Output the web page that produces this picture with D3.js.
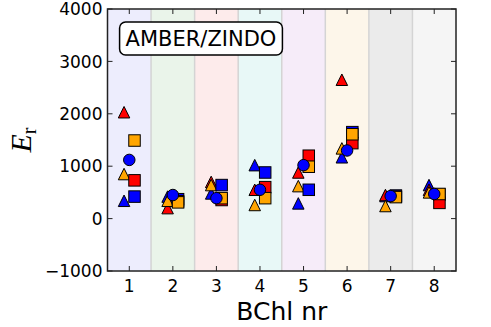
<!DOCTYPE html>
<html><head><meta charset="utf-8">
<script src="https://cdn.jsdelivr.net/npm/d3@7"></script>
<style>
html,body{margin:0;padding:0;background:#fff;}
svg{display:block;font-family:"DejaVu Sans",sans-serif;}
</style></head>
<body><svg id="c" width="491" height="327"></svg>
<script>
const categories = [1, 2, 3, 4, 5, 6, 7, 8];
const yTicks = [-1000, 0, 1000, 2000, 3000, 4000];
const bandColors = ["#ededfd", "#eaf4ea", "#fdebeb", "#e8f8f7", "#f6ecf9", "#fdf6ea", "#ebebeb", "#f5f5f5"];
const triBlue   = [340, 420, 480, 1020, 290, 1170, 430, 640];
const triRed    = [2030, 200, 700, 550, 880, 2650, 450, 550];
const triOrange = [850, 340, 640, 260, 620, 1340, 240, 500];
const sqBlue    = [420, 370, 640, 880, 550, 1650, 440, 460];
const sqRed     = [730, 330, 355, 600, 1200, 1440, 420, 300];
const sqOrange  = [1490, 310, 390, 390, 990, 1610, 410, 470];
const circBlue  = [1120, 450, 390, 550, 1020, 1300, 430, 470];
const boxLabel = "AMBER/ZINDO";
const xLabel = "BChl nr";

const series = [
  {vals: triBlue, shape: "tri", color: "#0000ff", off: -0.12},
  {vals: triRed, shape: "tri", color: "#ff0000", off: -0.12},
  {vals: triOrange, shape: "tri", color: "#ffa500", off: -0.12},
  {vals: sqBlue, shape: "sq", color: "#0000ff", off: 0.12},
  {vals: sqRed, shape: "sq", color: "#ff0000", off: 0.12},
  {vals: sqOrange, shape: "sq", color: "#ffa500", off: 0.12},
  {vals: circBlue, shape: "circ", color: "#0000ff", off: 0}
];

const L = 107.5, R = 456, T = 9, B = 271;
const svg = d3.select("#c");
const x = d3.scaleLinear().domain([0.5, 8.5]).range([L, R]);
const y = d3.scaleLinear().domain([-1000, 4000]).range([B, T]);

// bands
svg.append("g").selectAll("rect").data(categories).join("rect")
  .attr("x", d => x(d - 0.5)).attr("width", d => x(d + 0.5) - x(d - 0.5))
  .attr("y", T).attr("height", B - T)
  .attr("fill", (d, i) => bandColors[i]);
svg.append("g").selectAll("line").data(categories.slice(0, -1)).join("line")
  .attr("x1", d => x(d + 0.5)).attr("x2", d => x(d + 0.5))
  .attr("y1", T).attr("y2", B)
  .attr("stroke", "#d4d4d4").attr("stroke-width", 1.5);

// markers
const ms = 11.5;
const g = svg.append("g");
series.forEach(s => {
  categories.forEach((c, i) => {
    const cx = x(c + s.off), cy = y(s.vals[i]);
    if (s.shape === "tri") {
      const h = ms / 2;
      g.append("path").attr("d", `M${cx},${cy - h}L${cx - h},${cy + h}L${cx + h},${cy + h}Z`)
        .attr("fill", s.color).attr("stroke", "#000").attr("stroke-width", 1).attr("stroke-linejoin", "miter");
    } else if (s.shape === "sq") {
      g.append("rect").attr("x", cx - ms / 2).attr("y", cy - ms / 2).attr("width", ms).attr("height", ms)
        .attr("fill", s.color).attr("stroke", "#000").attr("stroke-width", 1);
    } else {
      g.append("circle").attr("cx", cx).attr("cy", cy).attr("r", ms / 2)
        .attr("fill", s.color).attr("stroke", "#000").attr("stroke-width", 1);
    }
  });
});

// axes with inward ticks
const tl = 5;
const ax = svg.append("g").attr("stroke", "#222").attr("stroke-width", 1);
categories.forEach(c => {
  ax.append("line").attr("x1", x(c)).attr("x2", x(c)).attr("y1", B).attr("y2", B - tl);
  ax.append("line").attr("x1", x(c)).attr("x2", x(c)).attr("y1", T).attr("y2", T + tl);
});
yTicks.forEach(t => {
  ax.append("line").attr("x1", L).attr("x2", L + tl).attr("y1", y(t)).attr("y2", y(t));
  ax.append("line").attr("x1", R).attr("x2", R - tl).attr("y1", y(t)).attr("y2", y(t));
});
svg.append("rect").attr("x", L).attr("y", T).attr("width", R - L).attr("height", B - T)
  .attr("fill", "none").attr("stroke", "#222").attr("stroke-width", 1.5);

const fmt = d3.format("d");
svg.append("g").selectAll("text").data(yTicks).join("text")
  .attr("x", L - 5).attr("y", d => y(d)).attr("dy", "0.36em")
  .attr("text-anchor", "end").attr("font-size", 17).attr("fill", "#000")
  .text(d => fmt(d));
svg.append("g").selectAll("text").data(categories).join("text")
  .attr("x", d => x(d)).attr("y", 292)
  .attr("text-anchor", "middle").attr("font-size", 17).attr("fill", "#000")
  .text(d => d);

svg.append("text").attr("x", (L + R) / 2).attr("y", 320)
  .attr("text-anchor", "middle").attr("font-size", 25).attr("fill", "#000").text(xLabel);

const yl = svg.append("text").attr("transform", `translate(31,${(T + B) / 2}) rotate(-90)`)
  .attr("text-anchor", "middle").attr("fill", "#000");
yl.append("tspan").attr("font-family", "'Liberation Serif',serif").attr("font-style", "italic").attr("font-size", 30).text("E");
yl.append("tspan").attr("font-family", "'Liberation Serif',serif").attr("font-size", 20).attr("dy", 5).text("r");

// label box
const bx = svg.append("g");
const bt = bx.append("text").attr("x", 201).attr("y", 46).attr("text-anchor", "middle")
  .attr("font-size", 21).attr("fill", "#000").text(boxLabel);
const bb = bt.node().getBBox();
bx.insert("rect", "text").attr("x", bb.x - 6).attr("y", 22).attr("width", bb.width + 12).attr("height", 33)
  .attr("rx", 6).attr("fill", "#fff").attr("stroke", "#000").attr("stroke-width", 1.5);
</script></body></html>
